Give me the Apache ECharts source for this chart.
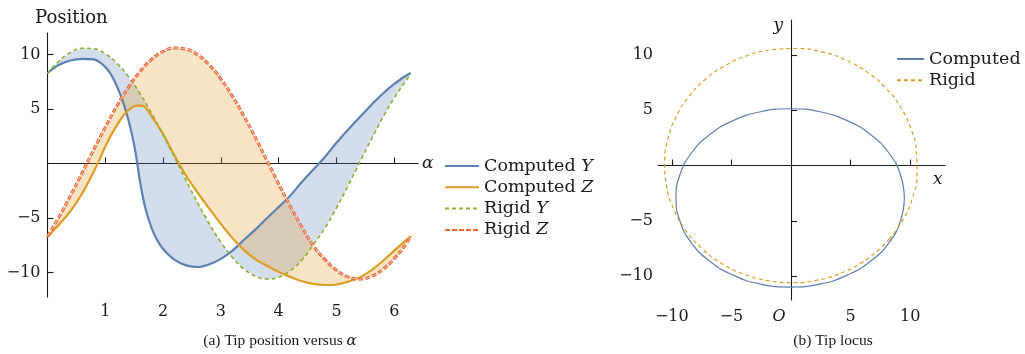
<!DOCTYPE html>
<html>
<head>
<meta charset="utf-8">
<script src="https://cdn.jsdelivr.net/npm/echarts@6/dist/echarts.min.js"></script>
<style>
html,body{margin:0;padding:0;background:#fff;}
#c{width:1025px;height:354px;}
</style>
</head>
<body>
<div id="c"></div>
<script>
// ---- data ----
const alphaRigid = [0,0.2,0.4,0.6,0.8,1.0,1.2,1.4,1.6,1.8,2.0,2.2,2.4,2.6,2.8,3.0,3.2,3.4,3.6,3.8,4.0,4.2,4.4,4.6,4.8,5.0,5.2,5.4,5.6,5.8,6.0,6.2,6.283];
const rigidY = [8.24,9.40,10.19,10.57,10.52,10.06,9.20,7.97,6.42,4.62,2.63,0.54,-1.58,-3.63,-5.53,-7.23,-8.62,-9.68,-10.34,-10.60,-10.44,-9.85,-8.87,-7.44,-5.91,-4.07,-2.04,0.08,2.19,4.21,6.02,7.58,8.24];
const rigidZ = [-6.67,-4.90,-2.93,-0.85,1.27,3.33,5.27,6.99,8.43,9.54,10.27,10.59,10.48,9.96,9.04,7.75,6.17,4.33,2.34,0.23,-1.88,-3.92,-5.81,-7.55,-8.80,-9.79,-10.40,-10.60,-10.37,-9.73,-8.72,-7.41,-6.67];

const alphaComp = [0,0.2,0.4,0.6,0.8,0.9,1.0,1.1,1.2,1.3,1.4,1.5,1.55,1.6,1.65,1.7,1.8,1.9,2.0,2.2,2.4,2.6,2.8,3.0,3.2,3.4,3.6,3.8,4.0,4.2,4.4,4.6,4.8,5.0,5.2,5.4,5.6,5.8,6.0,6.2,6.283];
const compY = [8.3,9.05,9.45,9.6,9.55,9.3,8.85,8.15,7.1,5.75,4.0,1.7,0.1,-1.65,-3.05,-4.25,-5.9,-7.05,-7.85,-8.85,-9.35,-9.5,-9.25,-8.75,-8.0,-7.0,-6.05,-5.0,-4.0,-2.95,-1.7,-0.55,0.6,1.9,3.1,4.25,5.35,6.4,7.3,8.05,8.3];
const compZ = [-6.75,-5.6,-4.35,-2.75,-0.75,0.35,1.55,2.6,3.5,4.3,4.9,5.25,5.3,5.3,5.28,5.1,4.35,3.55,2.7,0.7,-1.15,-2.7,-4.15,-5.55,-6.85,-7.95,-8.8,-9.4,-9.95,-10.4,-10.8,-11.05,-11.15,-11.1,-10.85,-10.45,-9.8,-8.95,-8.0,-7.05,-6.7];

// tip locus (b), computed curve
const locusY = [9.51,9.18,8.23,6.70,4.72,2.41,-0.07,-2.55,-4.86,-6.84,-8.37,-9.32,-9.65,-9.32,-8.37,-6.84,-4.86,-2.55,-0.07,2.41,4.72,6.70,8.23,9.18,9.51];
const locusZ = [-2.93,-0.84,1.11,2.78,4.06,4.87,5.14,4.87,4.06,2.78,1.11,-0.84,-2.93,-5.02,-6.97,-8.64,-9.92,-10.73,-11.0,-10.73,-9.92,-8.64,-6.97,-5.02,-2.93];

const xTicksA = [1,2,3,4,5,6];
const yTicksA = [-10,-5,5,10];
const xTicksB = [-10,-5,5,10];
const xLabelsB = [-10,-5,0,5,10];
const yTicksB = [-10,-5,5,10];

const legendA = ['Computed Y','Computed Z','Rigid Y','Rigid Z'];
const legendB = ['Computed','Rigid'];

// ---- styling ----
const FONT = 'DejaVu Serif';
const C_BLUE = '#5E81B5', C_ORANGE = '#E19C24', C_GREEN = '#8FB131', C_RED = '#EB6235';
const INK = '#1a1a1a';

function pairs(xs, ys){ return xs.map((x,i)=>[x, ys[i]]); }
function minus(v){ return v < 0 ? '\u2212' + (-v) : String(v); }

function band(name, xa, ya, xb, yb, color){
  return {
    type:'custom', name:name, xAxisIndex:0, yAxisIndex:0, silent:true, z:1,
    data:[[0,0]],
    renderItem:function(params, api){
      const pts = [];
      for (let i=0;i<xa.length;i++) pts.push(api.coord([xa[i], ya[i]]));
      for (let i=xb.length-1;i>=0;i--) pts.push(api.coord([xb[i], yb[i]]));
      return {type:'polygon', shape:{points:pts}, style:{fill:color, stroke:null}};
    }
  };
}

const axisLineStyle = {color:INK, width:1.1};
const labelStyle = {fontFamily:FONT, fontSize:16, color:INK};
const hiddenSymbol = {opacity:0, color:'transparent', borderWidth:0};

const option = {
  animation:false,
  backgroundColor:'#fff',
  textStyle:{fontFamily:FONT},
  title:[
    {text:'Position', left:30, top:4, textStyle:{fontFamily:FONT, fontSize:18, fontWeight:'normal', color:INK}},
    {text:'(a) Tip position versus {i|α}', left:275, top:328, textAlign:'center',
      textStyle:{fontFamily:'Liberation Serif', fontSize:15.5, fontWeight:'normal', color:INK,
        rich:{i:{fontFamily:FONT, fontStyle:'italic', fontSize:15, color:INK}}}},
    {text:'(b) Tip locus', left:828, top:328, textAlign:'center',
      textStyle:{fontFamily:'Liberation Serif', fontSize:15.5, fontWeight:'normal', color:INK}}
  ],
  grid:[
    {left:47.5, top:33, width:370.5, height:264},
    {left:658, top:20, width:287, height:280}
  ],
  xAxis:[
    {gridIndex:0, type:'value', min:0, max:6.41,
      axisLine:{onZero:true, lineStyle:axisLineStyle},
      axisTick:{inside:true, length:6, customValues:xTicksA, lineStyle:axisLineStyle},
      axisLabel:Object.assign({customValues:xTicksA, margin:7}, labelStyle),
      splitLine:{show:false},
      name:'α', nameLocation:'end', nameGap:4,
      nameTextStyle:{fontFamily:FONT, fontStyle:'italic', fontSize:17, color:INK, verticalAlign:'middle'}},
    {gridIndex:1, type:'value', min:-11.16, max:12.92,
      axisLine:{onZero:true, lineStyle:axisLineStyle},
      axisTick:{inside:true, length:6, customValues:xTicksB, lineStyle:axisLineStyle},
      axisLabel:Object.assign({customValues:xLabelsB, margin:9,
        formatter:function(v){ return v === 0 ? '{o|O}' : minus(v); },
        rich:{o:{fontFamily:FONT, fontStyle:'italic', fontSize:16, color:INK, padding:[0,24,0,0]}}}, labelStyle),
      splitLine:{show:false},
      name:'x', nameLocation:'end', nameGap:-12,
      nameTextStyle:{fontFamily:FONT, fontStyle:'italic', fontSize:17, color:INK, align:'left', verticalAlign:'top', padding:[6,0,0,0]}}
  ],
  yAxis:[
    {gridIndex:0, type:'value', min:-12.25, max:11.97,
      axisLine:{onZero:true, lineStyle:axisLineStyle},
      axisTick:{inside:true, length:6, customValues:yTicksA, lineStyle:axisLineStyle},
      axisLabel:Object.assign({customValues:yTicksA, margin:7, formatter:minus}, labelStyle),
      splitLine:{show:false}},
    {gridIndex:1, type:'value', min:-12.17, max:13.17,
      axisLine:{onZero:true, lineStyle:axisLineStyle},
      axisTick:{inside:true, length:6, customValues:yTicksB, lineStyle:axisLineStyle},
      axisLabel:Object.assign({customValues:yTicksB, margin:5, formatter:minus}, labelStyle),
      splitLine:{show:false},
      name:'y', nameLocation:'end', nameGap:-6,
      nameTextStyle:{fontFamily:FONT, fontStyle:'italic', fontSize:17, color:INK, align:'right', verticalAlign:'middle', padding:[0,8,0,0]}}
  ],
  legend:[
    {data:legendA, orient:'vertical', left:439, top:151, itemWidth:34, itemHeight:14, itemGap:1.3,
      selectedMode:false, itemStyle:hiddenSymbol,
      textStyle:{fontFamily:FONT, fontSize:17.5, lineHeight:20, color:INK,
        rich:{i:{fontFamily:FONT, fontStyle:'italic', fontSize:17.5, color:INK}}},
      formatter:function(n){ const p = n.split(' '); return p[0] + ' {i|' + p[1] + '}'; }},
    {data:legendB, orient:'vertical', left:891, top:44, itemWidth:27, itemHeight:14, itemGap:1.2,
      selectedMode:false, itemStyle:hiddenSymbol,
      textStyle:{fontFamily:FONT, fontSize:17.5, lineHeight:20, color:INK}}
  ],
  series:[
    band('fillY', alphaComp, compY, alphaRigid, rigidY, 'rgba(94,129,181,0.27)'),
    band('fillZ', alphaComp, compZ, alphaRigid, rigidZ, 'rgba(225,156,36,0.27)'),
    {type:'line', name:'Computed Y', xAxisIndex:0, yAxisIndex:0, data:pairs(alphaComp, compY),
      smooth:0.35, symbol:'none', z:3, color:C_BLUE, lineStyle:{color:C_BLUE, width:2.2}},
    {type:'line', name:'Computed Z', xAxisIndex:0, yAxisIndex:0, data:pairs(alphaComp, compZ),
      smooth:0.35, symbol:'none', z:3, color:C_ORANGE, lineStyle:{color:C_ORANGE, width:2.2}},
    {type:'line', name:'Rigid Y', xAxisIndex:0, yAxisIndex:0, data:pairs(alphaRigid, rigidY),
      smooth:true, symbol:'none', z:4, color:C_GREEN, lineStyle:{color:C_GREEN, width:1.6, type:[4,3]}},
    {type:'line', name:'Rigid Z', xAxisIndex:0, yAxisIndex:0, data:pairs(alphaRigid, rigidZ),
      smooth:true, symbol:'none', z:4, color:C_RED, lineStyle:{color:C_RED, width:3, type:[5,2]}},
    {type:'line', name:'Rigid Z inner', xAxisIndex:0, yAxisIndex:0, data:pairs(alphaRigid, rigidZ),
      smooth:true, symbol:'none', z:5, silent:true, color:'#f8c8b4', lineStyle:{color:'#f8cdb9', width:1, type:[5,2]}},
    {type:'line', name:'Computed', xAxisIndex:1, yAxisIndex:1, data:pairs(locusY, locusZ),
      smooth:true, symbol:'none', z:3, color:C_BLUE, lineStyle:{color:C_BLUE, width:1.2}},
    {type:'line', name:'Rigid', xAxisIndex:1, yAxisIndex:1, data:pairs(rigidY, rigidZ),
      smooth:true, symbol:'none', z:3, color:C_ORANGE, lineStyle:{color:C_ORANGE, width:1.2, type:[4,3]}}
  ]
};

const chart = echarts.init(document.getElementById('c'), null, {renderer:'canvas'});
chart.setOption(option);
</script>
</body>
</html>
